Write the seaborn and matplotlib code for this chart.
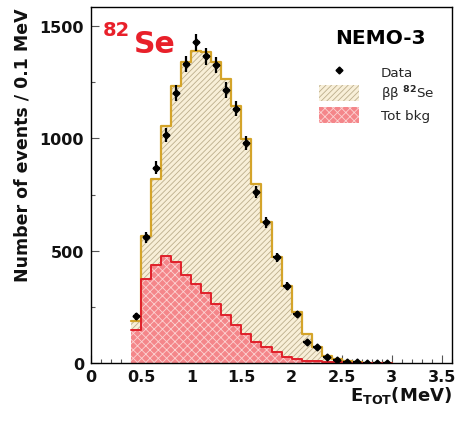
import numpy as np
import matplotlib
matplotlib.use("Agg")
import matplotlib.pyplot as plt
import seaborn as sns
from matplotlib.patches import Patch
from matplotlib.lines import Line2D

# ---- data (0.1 MeV bins) ----
bin_edges = [0.4, 0.5, 0.6, 0.7, 0.8, 0.9, 1.0, 1.1, 1.2, 1.3, 1.4, 1.5, 1.6, 1.7,
             1.8, 1.9, 2.0, 2.1, 2.2, 2.3, 2.4, 2.5, 2.6, 2.7, 2.8, 2.9, 3.0]
bin_centers = [0.45, 0.55, 0.65, 0.75, 0.85, 0.95, 1.05, 1.15, 1.25, 1.35, 1.45, 1.55, 1.65,
               1.75, 1.85, 1.95, 2.05, 2.15, 2.25, 2.35, 2.45, 2.55, 2.65, 2.75, 2.85, 2.95]
data_counts = [208, 559, 869, 1016, 1201, 1330, 1427, 1365, 1326, 1216, 1133, 979, 761,
               626, 470, 344, 218, 92, 72, 25, 15, 6, 3, 2, 1, 1]
total_model = [188, 566, 819, 1056, 1234, 1339, 1390, 1386, 1340, 1264, 1144, 997, 797,
               626, 472, 344, 227, 129, 71, 33, 18, 8, 4, 2, 1, 0]
bkg_model = [145, 375, 435, 475, 450, 390, 352, 312, 262, 215, 170, 129, 92,
             70, 47, 27, 18, 10, 7, 5, 3, 2, 1, 0, 0, 0]

x_ticks = [0, 0.5, 1, 1.5, 2, 2.5, 3, 3.5]
x_tick_labels = ["0", "0.5", "1", "1.5", "2", "2.5", "3", "3.5"]
y_ticks = [0, 500, 1000, 1500]

sns.set_style("ticks")
plt.rcParams['font.family'] = ['DejaVu Sans']
plt.rcParams['mathtext.default'] = 'bf'
plt.rcParams['hatch.linewidth'] = 0.6

W, H = 458, 427
fig = plt.figure(figsize=(W / 100, H / 100), dpi=100)
ax = fig.add_axes([91 / W, 1 - 364 / H, 361 / W, 356 / H])

sig_fill = "#f8efd8"
sig_hatch = "#bcae8c"
sig_line = "#d4a42a"
bkg_fill = "#f4868a"
bkg_hatch = "#fbd3d3"
bkg_line = "#e0202a"

# total model (signal + background): hatched beige
sns.histplot(x=bin_centers, weights=total_model, bins=bin_edges, element="step",
             fill=True, color=sig_fill, alpha=1, edgecolor=sig_hatch, linewidth=0,
             hatch="//////", ax=ax)
ax.collections[-1].set_facecolor(sig_fill)
sns.histplot(x=bin_centers, weights=total_model, bins=bin_edges, element="step",
             fill=False, color=sig_line, linewidth=1.6, ax=ax)

# background: red cross-hatched
sns.histplot(x=bin_centers, weights=bkg_model, bins=bin_edges, element="step",
             fill=True, color=bkg_fill, alpha=1, edgecolor=bkg_hatch, linewidth=0,
             hatch="xxxx", ax=ax)
ax.collections[-1].set_facecolor(bkg_fill)
sns.histplot(x=bin_centers, weights=bkg_model, bins=bin_edges, element="step",
             fill=False, color=bkg_line, linewidth=1.4, ax=ax)

# data points
ax.errorbar(bin_centers, data_counts, yerr=np.sqrt(data_counts), xerr=0.035,
            fmt="D", ms=3.5, color="black", ecolor="black", elinewidth=1.6,
            capsize=0, zorder=5)

ax.set_xlim(0, 3.6)
ax.set_ylim(0, 1585)
ax.set_xticks(x_ticks)
ax.set_xticklabels(x_tick_labels)
ax.set_yticks(y_ticks)
ax.set_xticks(np.arange(0, 3.61, 0.1), minor=True)
ax.set_yticks(np.arange(0, 1585, 250), minor=True)
ax.tick_params(which="both", direction="in", top=False, right=False,
               labelsize=11.5, width=0.8, color="#555555", labelcolor="#111111")
ax.tick_params(which="major", length=6)
ax.tick_params(which="minor", length=3)
for lab in ax.get_xticklabels() + ax.get_yticklabels():
    lab.set_fontweight("bold")
ax.tick_params(axis="x", pad=4)
ax.tick_params(axis="y", pad=5)

for sp in ax.spines.values():
    sp.set_visible(True)
    sp.set_linewidth(1.0)
    sp.set_color("black")

ax.set_ylabel("Number of events / 0.1 MeV", fontsize=12.5, fontweight="bold",
              loc="top", labelpad=6, color="#111111")
ax.set_xlabel("E$_{TOT}$(MeV)", fontsize=13, fontweight="bold", loc="right",
              labelpad=0, color="#111111")

# red isotope label
fig.text(103 / W, 1 - 36 / H, "82", ha="left", va="baseline",
         fontsize=14, fontweight="bold", color="#e8202a")
fig.text(134 / W, 1 - 53 / H, "Se", ha="left", va="baseline",
         fontsize=21.5, fontweight="bold", color="#e8202a")

fig.text(380 / W, 1 - 39 / H, "NEMO-3", ha="center", va="center",
         fontsize=14.5, fontweight="bold", color="black")

handles = [
    Line2D([0], [0], marker="D", color="black", ms=3.5, lw=0),
    Patch(facecolor=sig_fill, edgecolor=sig_hatch, hatch="//////", linewidth=0),
    Patch(facecolor=bkg_fill, edgecolor=bkg_hatch, hatch="xxxx", linewidth=0),
]
labels = ["Data", "ββ $^{82}$Se", "Tot bkg"]
leg = ax.legend(handles, labels, loc="upper left",
                bbox_to_anchor=(312 / W, 1 - 58 / H), bbox_transform=fig.transFigure,
                frameon=False, fontsize=9.7, handlelength=3.0, handleheight=1.4,
                handletextpad=1.6, labelspacing=0.3, borderpad=0)

fig.savefig("out.png", dpi=100)
